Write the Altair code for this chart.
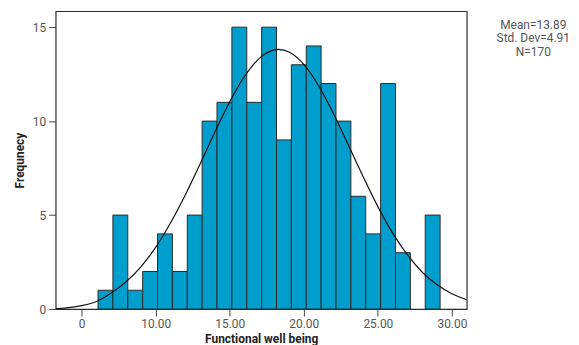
import altair as alt
import pandas as pd

# Histogram counts (one per bin, left to right)
counts = [1, 5, 1, 2, 4, 2, 5, 10, 11, 15, 11, 15, 9, 13, 14, 12, 10, 6, 4, 12, 3, 0, 5]
bin_first_edge = 6.11
bin_width = 1.004

# Fitted normal curve
curve_x = [3.25, 4, 5, 6, 7, 8, 9, 10, 11, 12, 13, 14, 15, 16, 17, 18, 18.3,
           19, 20, 21, 22, 23, 24, 25, 26, 27, 28, 29, 30, 31]
curve_y = [0.02, 0.06, 0.18, 0.40, 0.85, 1.45, 2.25, 3.28, 4.58, 6.07, 7.72, 9.42,
           11.03, 12.38, 13.34, 13.79, 13.82, 13.68, 13.02, 11.88, 10.40, 8.74,
           7.05, 5.45, 4.04, 2.88, 1.96, 1.29, 0.81, 0.49]

# Axis ticks
x_tick_values = [5, 10, 15, 20, 25, 30]
x_tick_labels = ["0", "10.00", "15.00", "20.00", "25.00", "30.00"]
y_tick_values = [0, 5, 10, 15]

stats_lines = ["Mean=13.89", "Std. Dev=4.91", "N=170"]

bars_df = pd.DataFrame({
    "lo": [bin_first_edge + i * bin_width for i in range(len(counts))],
    "hi": [bin_first_edge + (i + 1) * bin_width for i in range(len(counts))],
    "count": counts,
})
bars_df = bars_df[bars_df["count"] > 0]
curve_df = pd.DataFrame({"x": curve_x, "y": curve_y})

label_expr = " : ".join(
    [f"datum.value == {v} ? '{l}'" for v, l in zip(x_tick_values, x_tick_labels)]
) + " : ''"

x_scale = alt.Scale(domain=[3.25, 31.0], nice=False, zero=False)
y_scale = alt.Scale(domain=[0, 15.85], nice=False)

x_axis = alt.Axis(values=x_tick_values, labelExpr=label_expr, title="Functional well being",
                  grid=False, titlePadding=4)
y_axis = alt.Axis(values=y_tick_values, title="Frequnecy", grid=False, titlePadding=6)

bars = alt.Chart(bars_df).mark_rect(fill="#009ECC", stroke="#2a2a2a", strokeWidth=1).encode(
    x=alt.X("lo:Q", scale=x_scale, axis=x_axis),
    x2="hi:Q",
    y=alt.Y("count:Q", scale=y_scale, axis=y_axis),
    y2=alt.datum(0),
)

curve = alt.Chart(curve_df).mark_line(color="#111111", strokeWidth=1.2,
                                      interpolate="monotone", clip=True).encode(
    x=alt.X("x:Q", scale=x_scale),
    y=alt.Y("y:Q", scale=y_scale),
)

stats = alt.Chart(pd.DataFrame({"a": [0]})).mark_text(
    text=stats_lines, align="center", baseline="top", lineHeight=13.5,
    fontSize=12, font="Roboto", color="#555555"
).encode(x=alt.value(481), y=alt.value(9))

chart = alt.layer(bars, curve, stats).properties(
    width=414, height=300,
    autosize=alt.AutoSizeParams(type="none"),
    padding={"left": 48, "top": 2, "right": 105, "bottom": 35},
).configure_view(
    stroke="#2a2a2a", strokeWidth=1.2
).configure_axis(
    domain=False,
    labelFont="Roboto", labelFontSize=12, labelColor="#555555",
    tickColor="#444444", tickSize=7,
    titleFont="Roboto", titleFontSize=12, titleFontWeight="bold", titleColor="#222222",
    labelPadding=3,
)

chart.save("out.html", embed_options={"renderer": "svg", "actions": False})
